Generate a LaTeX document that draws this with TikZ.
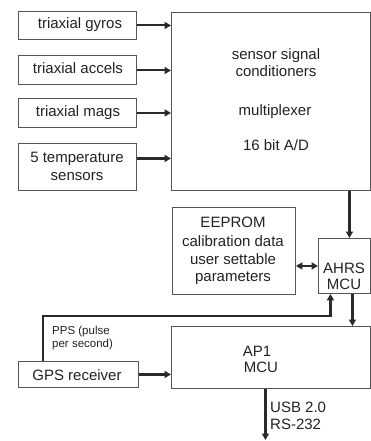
\documentclass[tikz,border=0pt]{standalone}
\usepackage{fontspec}
\setmainfont{Liberation Sans}
\usetikzlibrary{arrows.meta}
\definecolor{ln}{HTML}{2A2A2A}
\definecolor{bx}{HTML}{555555}
\definecolor{tx}{HTML}{222222}
\tikzset{
  box/.style={draw=bx, line width=0.9pt, rectangle, inner sep=0pt, anchor=north west},
  lbl/.style={text=tx, font=\fontsize{15}{17}\selectfont, inner sep=0pt, anchor=base},
  small/.style={text=tx, font=\fontsize{11.5}{13}\selectfont, inner sep=0pt, anchor=base west},
  arr/.style={draw=ln, line width=2.1pt, -{Triangle[length=6.5pt,width=7pt]}},
  arrb/.style={draw=ln, line width=2.1pt, {Triangle[length=6.5pt,width=7pt]}-{Triangle[length=6.5pt,width=7pt]}},
}
\begin{document}
\begin{tikzpicture}[x=1pt,y=-1pt]
\useasboundingbox (0,0) rectangle (371,441);
% boxes
\node[box, minimum width=118pt, minimum height=28pt] (gyros) at (18,11) {};
\node[box, minimum width=118pt, minimum height=29pt] (accels) at (18,55) {};
\node[box, minimum width=118pt, minimum height=29pt] (mags) at (18,98) {};
\node[box, minimum width=118pt, minimum height=47pt] (temp) at (18,143) {};
\node[box, minimum width=199pt, minimum height=178pt] (big) at (171,12) {};
\node[box, minimum width=123pt, minimum height=87pt] (eeprom) at (172,207) {};
\node[box, minimum width=52pt, minimum height=55pt] (ahrs) at (318,238) {};
\node[box, minimum width=199pt, minimum height=62pt] (ap1) at (171,326) {};
\node[box, minimum width=120pt, minimum height=26pt] (gps) at (18,361) {};
% texts
\node[lbl] (tgyros) at (80,29) {triaxial gyros};
\node[lbl] (taccels) at (78,74) {triaxial accels};
\node[lbl] (tmags) at (78,116) {triaxial mags};
\node[lbl] (ttemp1) at (77,162) {5 temperature};
\node[lbl] (ttemp2) at (77,180) {sensors};
\node[lbl] (tb1) at (276,60) {sensor signal};
\node[lbl] (tb2) at (276,77) {conditioners};
\node[lbl] (tb3) at (275,115) {multiplexer};
\node[lbl] (tb4) at (276,150) {16 bit A/D};
\node[lbl] (te1) at (233,227) {EEPROM};
\node[lbl] (te2) at (233,246) {calibration data};
\node[lbl] (te3) at (233,264) {user settable};
\node[lbl] (te4) at (233,281) {parameters};
\node[lbl] (ta1) at (344,273) {AHRS};
\node[lbl] (ta2) at (344,289) {MCU};
\node[lbl] (tp1) at (257,356) {AP1};
\node[lbl] (tp2) at (261,372) {MCU};
\node[lbl] (tgps) at (77,380) {GPS receiver};
\node[small] (pps1) at (52,334) {PPS (pulse};
\node[small] (pps2) at (52,347) {per second)};
\node[lbl, anchor=base west] (usb1) at (270,412) {USB 2.0};
\node[lbl, anchor=base west] (usb2) at (270,429) {RS-232};
% connectors
\draw[arr] (gyros.east) -- (gyros.east -| big.west);
\draw[arr] ([yshift=-0.5pt]accels.east) -- ([yshift=-0.5pt]accels.east -| big.west);
\draw[arr] (mags.east) -- (mags.east -| big.west);
\draw[arr] ([yshift=8.5pt]temp.east) -- ([yshift=8.5pt]temp.east -| big.west);
\coordinate (c1) at ([xshift=5pt]ahrs.north);
\draw[arr] (c1 |- big.south) -- (c1);
\draw[arrb] (eeprom.east |- ahrs.west) -- (ahrs.west);
\coordinate (c2) at ([xshift=8pt]ahrs.south);
\draw[arr] (c2) -- (c2 |- ap1.north);
\coordinate (c3) at ([xshift=25pt]gps.north west);
\coordinate (c4) at ([xshift=-14pt]ahrs.south);
\coordinate (c5) at (0,316);
\draw[arr] (c3) -- (c3 |- c5) -- (c4 |- c5) -- (c4);
\draw[arr] (gps.east) -- (gps.east -| ap1.west);
\coordinate (c6) at ([xshift=-5.5pt]ap1.south);
\coordinate (out) at (c6 |- 0,440);
\draw[arr] (c6) -- (out);
\end{tikzpicture}
\end{document}
